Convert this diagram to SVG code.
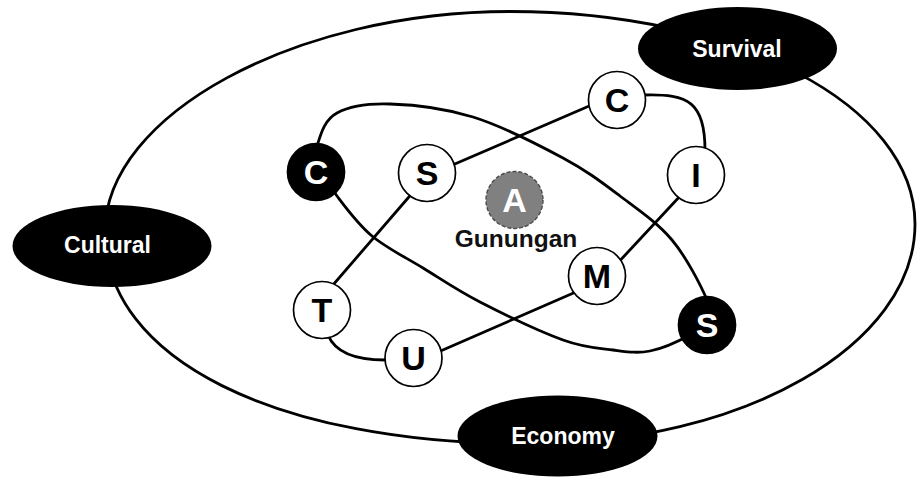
<svg xmlns="http://www.w3.org/2000/svg" width="918" height="477" viewBox="0 0 918 477">
<style>
.line{fill:none;stroke:#000;stroke-width:2.8;stroke-linejoin:round}
.blob{fill:#000}
.blabel{font-family:"Liberation Sans",Arial,sans-serif;font-weight:bold;font-size:23px;fill:#fff;text-anchor:middle}
.wc{fill:#fff;stroke:#000;stroke-width:1.7}
.bc{fill:#000;stroke:#000;stroke-width:1.7}
.lt{font-family:"Liberation Sans",Arial,sans-serif;font-weight:bold;font-size:34px;text-anchor:middle;fill:#000}
.lw{fill:#fff}
</style>
<rect width="918" height="477" fill="#fff"/>
<g id="connectors">
<path id="outer" class="line" d="M510,11.5 C737,11.5 915,105 915,224 C915,345.5 742.6,444 530,444 C275,444 105,359 105,232 C105,115 295,11.5 510,11.5 Z"/>
<path id="loopA" class="line" d="M318,143 C321.2,132.7 325,119.5 337,113 C349,106.5 367.3,103.3 390,104 C412.7,104.7 444.2,108 473,117 C501.8,126 538.5,144.8 563,158 C587.5,171.2 601.8,182.3 620,196 C638.2,209.7 657.5,222.7 672,240 C686.5,257.3 701,285.8 707,300 L708,325 L690,335 C680.5,340.2 662.8,348.5 650,351 C637.2,353.5 627.5,351.8 613,350 C598.5,348.2 585.2,348 563,340 C540.8,332 503.3,314 480,302 C456.7,290 441,279 423,268 C405,257 386.3,248 372,236 C357.7,224 345.3,207 337,196 C328.7,185 325.2,178.8 322,170 Z"/>
<path id="loopB" class="line" d="M427,176 L617,94 L645,95 C688,94 705,102 705,150 L695,180 L601,281 L413,363 L385,360 C355,360 335,352 328,335 L320,300 Z"/>
</g>
<g id="survival"><ellipse class="blob" cx="737.5" cy="48.5" rx="99.5" ry="41.5"/><text class="blabel" x="737" y="57">Survival</text></g>
<g id="cultural"><ellipse class="blob" cx="112" cy="246" rx="99.5" ry="41"/><text class="blabel" x="107.5" y="253">Cultural</text></g>
<g id="economy"><ellipse class="blob" cx="557.5" cy="436" rx="100" ry="40.5"/><text class="blabel" x="563" y="444">Economy</text></g>
<g id="node-c-black"><circle class="bc" cx="316" cy="172" r="28.5"/><text class="lt lw" x="316" y="184">C</text></g>
<g id="node-s-white"><circle class="wc" cx="427" cy="173" r="28.5"/><text class="lt" x="427" y="185">S</text></g>
<g id="node-a"><circle cx="514.5" cy="200" r="28.5" fill="#808080" stroke="#4a4a4a" stroke-width="1.4" stroke-dasharray="4 2"/><text class="lt lw" x="514.5" y="212">A</text><text x="516" y="247" font-family="Liberation Sans, Arial, sans-serif" font-weight="bold" font-size="24.5" fill="#111" text-anchor="middle">Gunungan</text></g>
<g id="node-c-white"><circle class="wc" cx="617" cy="100" r="28.5"/><text class="lt" x="617" y="112">C</text></g>
<g id="node-i"><circle class="wc" cx="696" cy="175" r="28.5"/><text class="lt" x="696" y="187">I</text></g>
<g id="node-m"><circle class="wc" cx="597" cy="276" r="28.5"/><text class="lt" x="597" y="288">M</text></g>
<g id="node-t"><circle class="wc" cx="322" cy="310" r="28.5"/><text class="lt" x="322" y="322">T</text></g>
<g id="node-u"><circle class="wc" cx="413.5" cy="358" r="28.5"/><text class="lt" x="413.5" y="370">U</text></g>
<g id="node-s-black"><circle class="bc" cx="707" cy="325" r="28.5"/><text class="lt lw" x="707" y="337">S</text></g>
</svg>
